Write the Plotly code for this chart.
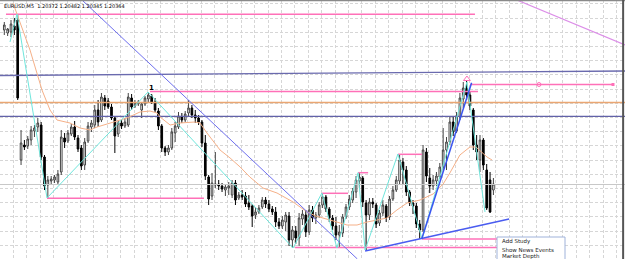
import plotly.graph_objects as go

# ---------------- candle data (chart points, bar index) ----------------
open_ = [270,267,268,274,280,140,155,154,160,169,
         173,175,143,115,119,120,118,128,162,159,
         166,173,162,152,135,159,173,175,190,180,
         202,199,193,182,166,177,174,175,202,194,
         196,190,196,201,204,198,189,174,152,148,
         152,167,173,183,180,187,192,185,182,178,
         157,123,104,115,116,114,110,112,105,117,
         102,105,104,97,94,85,88,93,100,96,
         91,88,78,74,78,84,60,69,62,81,
         85,68,90,82,85,95,103,91,82,74,
         65,67,83,93,100,108,119,122,97,85,
         98,95,77,87,94,83,101,110,119,138,
         130,108,97,94,76,70,148,122,114,119,
         123,133,150,158,178,169,183,201,212,205,
         190,155,140,160,130,120,110]
high = [278,272,280,282,286,170,160,164,174,175,
        182,178,145,124,124,125,130,170,167,170,
        176,179,165,155,162,178,180,195,200,207,
        205,202,196,184,180,180,182,207,206,200,
        200,198,204,208,206,202,192,176,154,155,
        172,178,188,187,189,200,195,190,185,180,
        165,125,127,148,120,117,115,118,120,120,
        108,110,108,105,96,93,95,103,103,100,
        94,93,82,84,88,88,74,74,87,90,
        90,95,94,88,98,107,105,93,85,83,
        75,86,96,105,112,124,128,124,100,102,
        102,97,90,100,96,104,114,124,146,142,
        134,110,100,97,80,155,152,132,125,128,
        137,172,163,183,183,188,207,218,220,208,
        192,165,165,162,136,128,122]
low = [265,264,263,265,200,135,150,151,155,163,
       168,140,110,102,115,117,115,125,152,157,
       164,160,148,130,130,157,168,172,173,178,
       190,191,180,147,163,171,172,173,190,192,
       194,182,194,197,196,188,170,148,144,145,
       150,158,171,177,178,184,182,177,175,153,
       120,95,100,112,110,108,104,105,102,95,
       100,100,93,90,73,81,86,91,92,88,
       85,73,71,71,69,54,52,56,54,75,
       63,65,78,76,82,92,88,78,70,60,
       52,63,81,90,97,102,112,93,50,80,
       92,72,74,84,78,80,99,108,116,115,
       104,94,86,72,61,68,118,107,110,114,
       121,130,130,155,164,167,180,192,200,190,
       150,140,128,130,90,87,105]
close = [275,271,276,270,202,157,153,161,170,172,
         177,143,114,120,121,123,126,163,158,167,
         173,163,151,134,158,174,177,190,178,203,
         194,193,182,164,177,174,178,203,193,197,
         198,196,202,205,198,190,174,152,148,152,
         168,174,184,180,186,192,185,182,178,157,
         124,101,117,116,114,111,113,114,117,100,
         105,103,96,93,84,88,92,100,96,91,
         88,78,74,80,85,60,70,62,82,86,
         68,90,82,85,95,103,91,82,74,65,
         68,83,93,101,109,120,123,98,85,98,
         96,76,87,95,82,101,110,120,140,130,
         108,97,94,76,70,150,124,114,120,124,
         133,150,158,178,168,184,202,212,205,194,
         155,148,160,135,92,88,116]
bars = list(range(len(open_)))

# ---------------- indicator / object data ----------------
ma_x = [2.6,7.67,11.25,13.64,15.73,19.6,22.6,25.6,27.7,31.6,36.6,40.5,43.5,45.6,46.5,
        49.5,52.4,56.9,58.4,60.5,62.0,64.4,67.4,70.4,73.3,77.2,81.4,86.2,90.4,93.0,
        97.2,102.3,105.3,108.3,111.3,114.2,117.2,120.2,124.1,128.0,131.0,133.0,136.0,
        139.0,140.8,142.6,144.1,145.6]
ma_p = [297,250,210,190,180,177,172,170,173,177,182,188,189,187,183,
        175,177,178,177,167,160,150,142,133,123,112,107,98,88,84,
        80,75,75,78,80,82,90,97,100,106,116,127,145,
        153,153,148,143,140]

zz_x = [1.7,3.79,12.75,42.9,86.2,94.8,99.3,105.6,107.7,117.5,124.7,138.1,143.5]
zz_p = [258,286,102,208,52,107,52,127.3,50,146,61,218,88]

full_span = [-1.3, 185.3]
slate_top = [224.5, 229.0]
orange_level = 197.5
slate_level = 183.7
bid_level = 115.5

pink_level = [285.7, 208.5, 215.5, 101.7, 106.7, 127.3, 145.7, 61.0, 52.5]
pink_from = [0.5, 43.5, 139.0, 12.75, 94.8, 105.6, 117.5, 124.7, 86.8]
pink_to = [140.5, 141.4, 181.7, 59.6, 102.6, 108.6, 124.7, 147.1, 147.1]

thin_blue_x = [23.19, 105.4]
thin_blue_p = [300, 41]
trend_low_x = [107.7, 150.7]
trend_low_p = [49, 81]
trend_up_x = [124.6, 139.5]
trend_up_p = [61, 217.3]
violet_x = [153.0, 185.3]
violet_p = [300, 255]

marker_circle = (159.6, 215.5)
marker_square = (181.7, 215.5)
peak_tri = (138.1, 221)
label_one = (43.8, 212)

menu_items = ["Add Study", "Show News Events", "Market Depth"]

fig = go.Figure()

def seg(xs, ys, color, width, dash=None):
    fig.add_trace(go.Scatter(x=xs, y=ys, mode="lines",
                             line=dict(color=color, width=width, dash=dash),
                             hoverinfo="skip", showlegend=False))

# horizontal levels
seg(full_span, slate_top, "#6a6aae", 1.3)
seg(full_span, [orange_level, orange_level], "#eaa672", 1.5)
seg(full_span, [slate_level, slate_level], "#6262a8", 1.3)
seg(full_span, [bid_level, bid_level], "#c8c8c8", 1)

# pink segments
px, py = [], []
for lv, a, b in zip(pink_level, pink_from, pink_to):
    px += [a, b, None]
    py += [lv, lv, None]
seg(px, py, "#ff70b8", 1.5)

# moving average and zigzag
seg(ma_x, ma_p, "#f5b088", 1)
seg(zz_x, zz_p, "#6fe6dc", 1)

# candles
fig.add_trace(go.Candlestick(
    x=bars, open=open_, high=high, low=low, close=close,
    increasing=dict(line=dict(color="#444444", width=1), fillcolor="white"),
    decreasing=dict(line=dict(color="black", width=1), fillcolor="black"),
    whiskerwidth=0, hoverinfo="skip", showlegend=False))

# trend lines
seg(thin_blue_x, thin_blue_p, "#6f70ee", 1)
seg(trend_low_x, trend_low_p, "#4a5cf0", 1.5)
seg(trend_up_x, trend_up_p, "#3a55f0", 1.5)
seg(violet_x, violet_p, "#dc8ee8", 1.2)

fig.add_trace(go.Scatter(x=[marker_circle[0]], y=[marker_circle[1]], mode="markers",
                         marker=dict(symbol="circle-open", size=4, color="#ff70b8"),
                         hoverinfo="skip", showlegend=False))
fig.add_trace(go.Scatter(x=[marker_square[0]], y=[marker_square[1]], mode="markers",
                         marker=dict(symbol="square", size=3, color="#ff70b8"),
                         hoverinfo="skip", showlegend=False))
fig.add_trace(go.Scatter(x=[peak_tri[0]], y=[peak_tri[1]], mode="markers",
                         marker=dict(symbol="triangle-up-open", size=6, color="#ff70b8"),
                         hoverinfo="skip", showlegend=False))

fig.add_annotation(x=label_one[0], y=label_one[1], text="<b>1</b>", showarrow=False,
                   font=dict(size=7, color="black", family="DejaVu Sans"))

fig.add_annotation(x=0.003, y=0.995, xref="paper", yref="paper", xanchor="left", yanchor="top",
                   text="EURUSD,M5  1.20372 1.20482 1.20345 1.20364", showarrow=False,
                   font=dict(size=5, color="black", family="DejaVu Sans"))

# context menu
fig.add_shape(type="rect", xref="paper", yref="paper", x0=497/625, x1=565/625,
              y0=-0.1, y1=1-237/259, line=dict(color="#9fb2da", width=1), fillcolor="white",
              layer="above")
for txt, ypx in zip(menu_items, [241.5, 249.5, 256.0]):
    fig.add_annotation(x=500/625, y=1-ypx/259, xref="paper", yref="paper", xanchor="left",
                       yanchor="middle", text=txt, showarrow=False,
                       font=dict(size=5.5, color="#222222", family="DejaVu Sans"))

# frame lines
fig.add_shape(type="line", xref="paper", yref="paper", x0=0, x1=1, y0=0.998, y1=0.998,
              line=dict(color="#8a8a8a", width=1.5))
fig.add_shape(type="line", xref="paper", yref="paper", x0=0.997, x1=0.997, y0=0, y1=1,
              line=dict(color="#555555", width=2))

fig.update_layout(
    width=625, height=259, margin=dict(l=0, r=0, t=0, b=0),
    paper_bgcolor="white", plot_bgcolor="white", showlegend=False,
    xaxis=dict(range=[-1.284, 185.284], showticklabels=False, ticks="", zeroline=False,
               showgrid=True, gridcolor="#d6d6d6", griddash="3px,2px", gridwidth=1,
               tick0=-1.284, dtick=4, rangeslider=dict(visible=False), fixedrange=True),
    yaxis=dict(range=[41, 300], showticklabels=False, ticks="", zeroline=False,
               showgrid=True, gridcolor="#d6d6d6", griddash="3px,2px", gridwidth=1,
               tick0=282, dtick=14.2, fixedrange=True),
)

fig.write_html("out.html")
